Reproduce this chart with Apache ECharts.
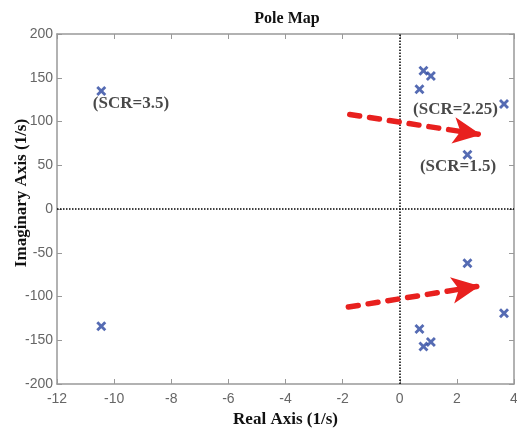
<!DOCTYPE html>
<html>
<head>
<meta charset="utf-8">
<script src="https://cdn.jsdelivr.net/npm/echarts@6/dist/echarts.min.js"></script>
<style>
  html, body { margin: 0; padding: 0; background: #fff; }
  #chart { width: 517px; height: 432px; }
</style>
</head>
<body>
<div id="chart"></div>
<script>
// poles: [real, imaginary]
const poles = [
  [-10.45, 135], [-10.45, -134],
  [0.83, 158], [1.09, 152], [0.69, 137], [3.65, 120], [2.37, 62],
  [0.83, -157], [1.09, -152], [0.69, -137], [3.65, -119], [2.37, -62]
];
// annotation labels: [real, imaginary, text]
const notes = [
  [-9.41, 120, '(SCR=3.5)'],
  [1.95, 114, '(SCR=2.25)'],
  [2.04, 48, '(SCR=1.5)']
];
// red trend arrows: [start, end]
const arrows = [
  [[-1.75, 108], [2.85, 85]],
  [[-1.8, -112], [2.8, -88]]
];

const chart = echarts.init(document.getElementById('chart'));

const RED = '#e8201e';
const BLUE = '#2a46a0';
const GRAY = '#999';
// bold x marker
const xShape = 'path://M0,2L2,0L5,3L8,0L10,2L7,5L10,8L8,10L5,7L2,10L0,8L3,5Z';

const axisCommon = {
  axisLine: { show: true, onZero: false, lineStyle: { color: GRAY, width: 1.5 } },
  axisTick: { show: true, inside: true, length: 5, lineStyle: { color: GRAY } },
  splitLine: { show: false }
};
const labelStyle = { color: '#666', fontFamily: 'Liberation Sans', fontSize: 14 };
const nameStyle = { color: '#111', fontFamily: 'Liberation Serif', fontWeight: 'bold', fontSize: 17 };

const options = {
  animation: false,
  title: {
    text: 'Pole Map',
    left: 282, top: 6, textAlign: 'center',
    textStyle: { fontFamily: 'Liberation Serif', fontWeight: 'bold', fontSize: 16, color: '#111' }
  },
  grid: { left: 57, right: 3, top: 34, bottom: 48, outerBoundsMode: 'none', containLabel: false },
  xAxis: [
    {
      type: 'value', min: -12, max: 4, interval: 2,
      ...axisCommon,
      axisLabel: { ...labelStyle, margin: 8 },
      name: 'Real Axis (1/s)', nameLocation: 'middle', nameGap: 22,
      nameTextStyle: nameStyle
    },
    {
      type: 'value', min: -12, max: 4, interval: 2, position: 'top',
      ...axisCommon, axisLabel: { show: false }
    }
  ],
  yAxis: [
    {
      type: 'value', min: -200, max: 200, interval: 50,
      ...axisCommon,
      axisLabel: { ...labelStyle, margin: 4 },
      name: 'Imaginary Axis (1/s)', nameLocation: 'middle', nameGap: 27,
      nameMoveOverlap: false,
      nameTextStyle: { ...nameStyle, padding: [0, 0, 0, 32] }
    },
    {
      type: 'value', min: -200, max: 200, interval: 50, position: 'right',
      ...axisCommon, axisLabel: { show: false }
    }
  ],
  series: [
    {
      type: 'scatter',
      data: poles,
      symbol: xShape,
      symbolSize: 10,
      itemStyle: { color: BLUE },
      z: 5,
      markLine: {
        silent: true,
        symbol: 'none',
        label: { show: false },
        lineStyle: { color: '#000', type: 'dotted', width: 1.5 },
        data: [{ xAxis: 0 }, { yAxis: 0 }]
      }
    },
    {
      type: 'scatter',
      data: notes.map(n => ({ value: [n[0], n[1]], name: n[2] })),
      symbolSize: 0,
      label: {
        show: true, position: 'inside', formatter: p => p.name,
        fontFamily: 'Liberation Serif', fontWeight: 'bold', fontSize: 17, color: '#1a1a1a'
      }
    },
    {
      type: 'line',
      data: [],
      markLine: {
        silent: true,
        symbol: ['none', 'arrow'],
        symbolSize: [20, 28],
        label: { show: false },
        lineStyle: { color: RED, type: [10, 10], width: 5.5, cap: 'round' },
        data: arrows.map(a => [{ coord: a[0] }, { coord: a[1] }])
      }
    }
  ]
};

chart.setOption(options);
</script>
</body>
</html>
